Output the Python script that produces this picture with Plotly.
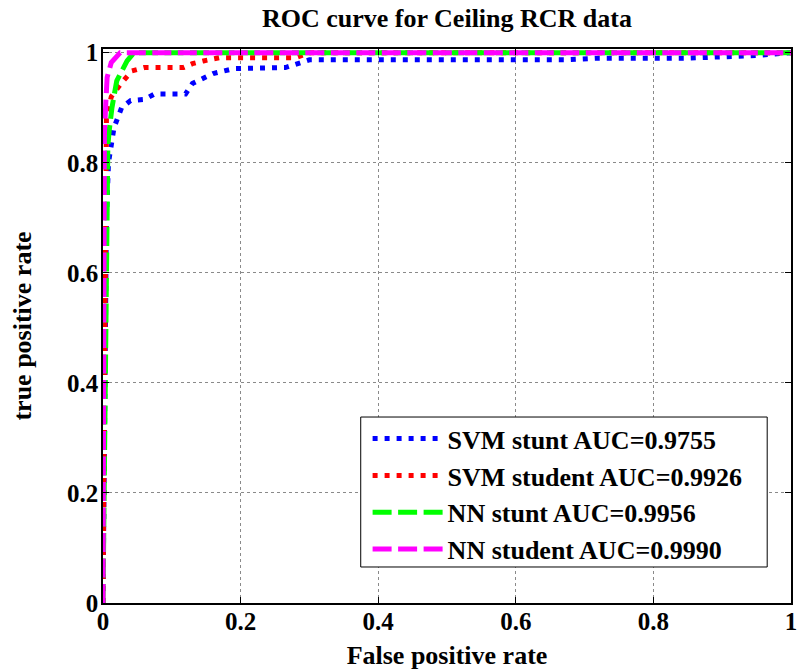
import plotly.graph_objects as go

# ROC curves (false positive rate vs. true positive rate) for the four classifiers
svm_stunt_fpr = [0, 0.003, 0.005, 0.008, 0.012, 0.016, 0.027, 0.04, 0.06, 0.075, 0.12,
                 0.13, 0.16, 0.19, 0.265, 0.28, 0.30, 0.67, 0.72, 0.85, 0.95, 1.0]
svm_stunt_tpr = [0, 0.40, 0.70, 0.80, 0.84, 0.864, 0.90, 0.913, 0.915, 0.925, 0.925,
                 0.944, 0.962, 0.971, 0.973, 0.980, 0.987, 0.987, 0.990, 0.990, 0.995, 1.0]

svm_student_fpr = [0, 0.003, 0.005, 0.012, 0.02, 0.027, 0.042, 0.06, 0.117, 0.13, 0.146,
                   0.17, 0.28, 0.30, 1.0]
svm_student_tpr = [0, 0.60, 0.88, 0.92, 0.935, 0.945, 0.967, 0.973, 0.973, 0.980, 0.985,
                   0.991, 0.991, 1.0, 1.0]

nn_stunt_fpr = [0, 0.005, 0.007, 0.009, 0.013, 0.02, 0.035, 0.045, 1.0]
nn_stunt_tpr = [0, 0.75, 0.83, 0.858, 0.90, 0.949, 0.985, 1.0, 1.0]

nn_student_fpr = [0, 0.002, 0.004, 0.006, 0.012, 0.025, 1.0]
nn_student_tpr = [0, 0.85, 0.907, 0.955, 0.982, 1.0, 1.0]

series_names = ["SVM stunt AUC=0.9755", "SVM student AUC=0.9926",
                "NN stunt AUC=0.9956", "NN student AUC=0.9990"]
series_colors = ["#0000ff", "#ff0000", "#00ff00", "#ff00ff"]
series_dashes = ["5px,7px", "5px,7px", "19px,6.5px", "19px,6.5px"]

tick_vals = [0, 0.2, 0.4, 0.6, 0.8, 1]
tick_text = ["0", "0.2", "0.4", "0.6", "0.8", "1"]

FONT = "Liberation Serif, Times New Roman, serif"

series = [(svm_stunt_fpr, svm_stunt_tpr), (svm_student_fpr, svm_student_tpr),
          (nn_stunt_fpr, nn_stunt_tpr), (nn_student_fpr, nn_student_tpr)]

fig = go.Figure()
for (fx, ty), name, col, dash in zip(series, series_names, series_colors, series_dashes):
    fig.add_trace(go.Scatter(
        x=fx, y=ty, mode="lines", name=name,
        line=dict(color=col, width=5, dash=dash),
    ))

axis_common = dict(
    tickvals=tick_vals, ticktext=tick_text,
    ticks="inside", ticklen=6, tickcolor="black", tickwidth=1,
    showline=True, linecolor="black", linewidth=1.5, mirror="ticks",
    showgrid=True, gridcolor="#8a8a8a", griddash="dot", gridwidth=1,
    zeroline=False, ticklabeloverflow="allow",
    tickfont=dict(family=FONT, size=25, color="black", weight="bold"),
)

fig.update_xaxes(range=[0, 1], **axis_common, ticklabelstandoff=-5,
                 title=dict(text="False positive rate", standoff=12,
                            font=dict(family=FONT, size=26, color="black", weight="bold")))
fig.update_yaxes(range=[0, 1.0067], **axis_common, ticklabelstandoff=-2,
                 title=dict(text="true positive rate", standoff=28,
                            font=dict(family=FONT, size=26, color="black", weight="bold")))

# White framed panel behind the legend entries
fig.add_shape(type="rect", xref="paper", yref="paper",
              x0=0.3746, x1=0.9654, y0=0.065, y1=0.3357,
              fillcolor="white", line=dict(color="black", width=1), layer="above")

fig.update_layout(
    width=801, height=671,
    margin=dict(l=103, r=4, t=49, b=68),
    paper_bgcolor="white", plot_bgcolor="white",
    title=dict(text="ROC curve for Ceiling RCR data", x=0.5, xref="paper",
               y=1 - 18 / 671, yref="container", yanchor="middle", xanchor="center",
               font=dict(family=FONT, size=26, color="black", weight="bold")),
    legend=dict(x=0.3846, y=0.339, xanchor="left", yanchor="top",
                borderwidth=0, bgcolor="rgba(0,0,0,0)",
                font=dict(family=FONT, size=26, color="black", weight="bold"),
                tracegroupgap=0, itemwidth=70),
    showlegend=True,
)

fig.write_html("out.html")
